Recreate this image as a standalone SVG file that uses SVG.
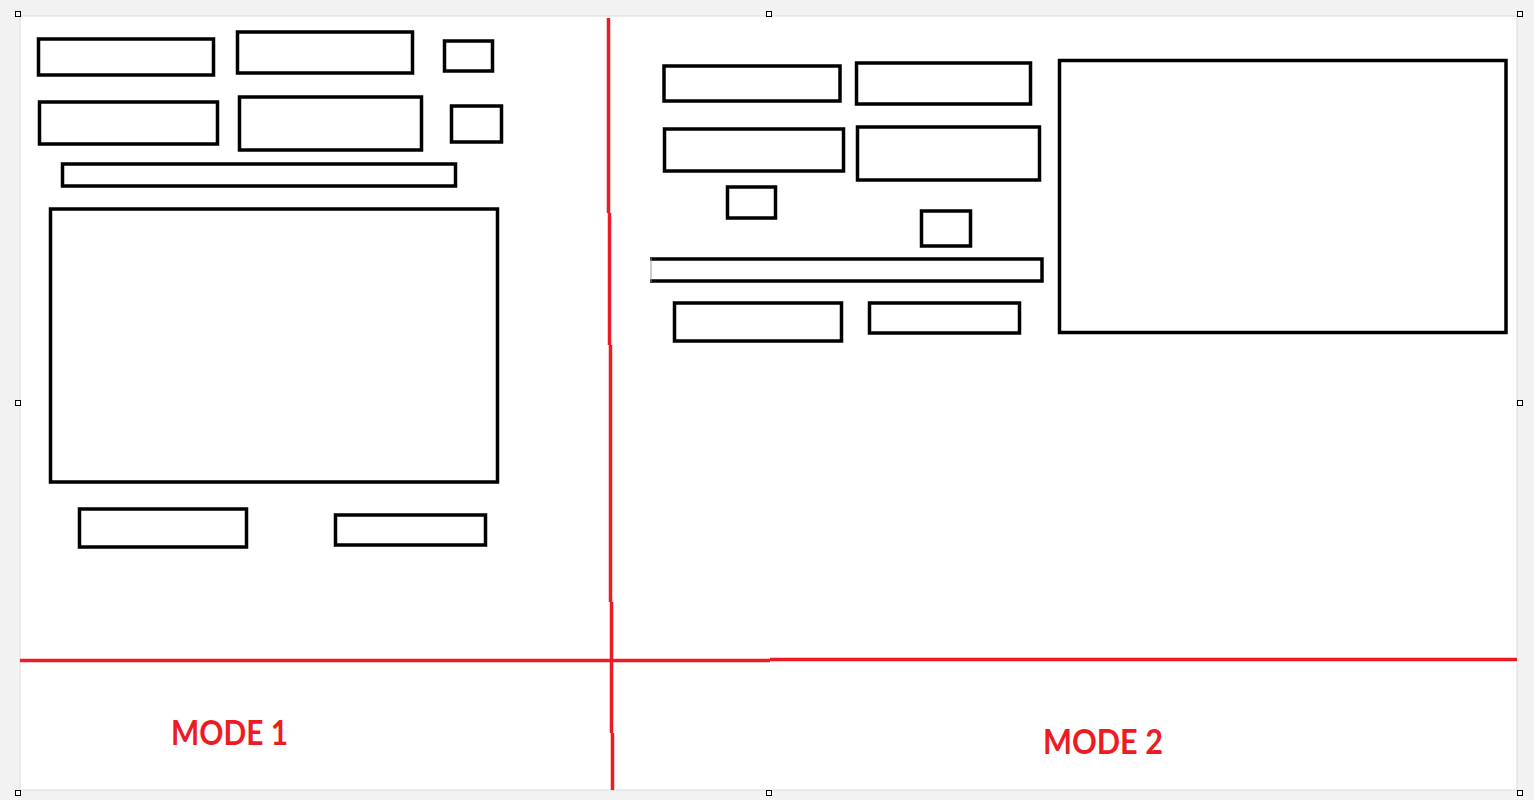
<svg xmlns="http://www.w3.org/2000/svg" width="1534" height="800" viewBox="0 0 1534 800">
<style>
.box{fill:none;stroke:#000;stroke-width:3.5}
.red{stroke:#ed1c24;stroke-width:3.5;fill:none}
.h{fill:#fff;stroke:#000;stroke-width:1}
.lbl{font-family:"Lato","Liberation Sans",sans-serif;font-weight:bold;font-size:35px;fill:#ed1c24}
</style>
<rect x="0" y="0" width="1534" height="800" fill="#f2f2f2"/>
<rect x="20" y="16" width="1497" height="774" fill="#fff" stroke="#dcdcdc" stroke-width="1"/>
<g id="handles">
<rect class="h" x="15.5" y="11.5" width="5" height="5"/>
<rect class="h" x="766.5" y="11.5" width="5" height="5"/>
<rect class="h" x="1517.5" y="11.5" width="5" height="5"/>
<rect class="h" x="15.5" y="400.5" width="5" height="5"/>
<rect class="h" x="1517.5" y="400.5" width="5" height="5"/>
<rect class="h" x="15.5" y="790.5" width="5" height="5"/>
<rect class="h" x="766.5" y="790.5" width="5" height="5"/>
<rect class="h" x="1517.5" y="790.5" width="5" height="5"/>
</g>
<g id="mode1">
<rect id="m1a" class="box" x="38.5" y="39" width="175" height="36"/>
<rect id="m1b" class="box" x="237.5" y="32" width="175" height="41"/>
<rect id="m1c" class="box" x="444.5" y="41" width="48" height="30"/>
<rect id="m1d" class="box" x="39.5" y="102" width="178" height="42"/>
<rect id="m1e" class="box" x="239.5" y="97" width="182" height="53"/>
<rect id="m1f" class="box" x="451.5" y="106" width="50" height="36"/>
<rect id="m1g" class="box" x="62.5" y="164" width="393" height="22"/>
<rect id="m1h" class="box" x="50.5" y="209" width="447" height="273"/>
<rect id="m1i" class="box" x="79.5" y="509" width="167" height="38"/>
<rect id="m1j" class="box" x="335.5" y="515" width="150" height="30"/>
</g>
<g id="mode2">
<rect id="m2a" class="box" x="664" y="66" width="176" height="35"/>
<rect id="m2b" class="box" x="856.5" y="63" width="174" height="41"/>
<rect id="m2c" class="box" x="664.5" y="129" width="179" height="42"/>
<rect id="m2d" class="box" x="857.5" y="127" width="182" height="53"/>
<rect id="m2e" class="box" x="727.5" y="187" width="48" height="31"/>
<rect id="m2f" class="box" x="921.5" y="211" width="49" height="35"/>
<g id="m2g">
<path d="M650 259 H1042 V281 H650" fill="none" stroke="#000" stroke-width="3.5"/>
<line x1="651" y1="258" x2="651" y2="282" stroke="#999" stroke-width="1"/>
</g>
<rect id="m2h" class="box" x="674.5" y="303" width="167" height="38"/>
<rect id="m2i" class="box" x="869.5" y="303" width="150" height="30"/>
<rect id="m2j" class="box" x="1059.5" y="60.5" width="446.5" height="272"/>
</g>
<g id="connectors">
<path class="red" d="M608.5 18 V213 M609.5 213 V345 M610.5 345 V602 M611.5 602 V733 M612.5 733 V790"/>
<path class="red" d="M20 660.5 H770 M770 659.5 H1517"/>
</g>
<g id="labels">
<text class="lbl" x="171" y="745" textLength="117" lengthAdjust="spacingAndGlyphs">MODE 1</text>
<text class="lbl" x="1043" y="754" textLength="120" lengthAdjust="spacingAndGlyphs">MODE 2</text>
</g>
</svg>
